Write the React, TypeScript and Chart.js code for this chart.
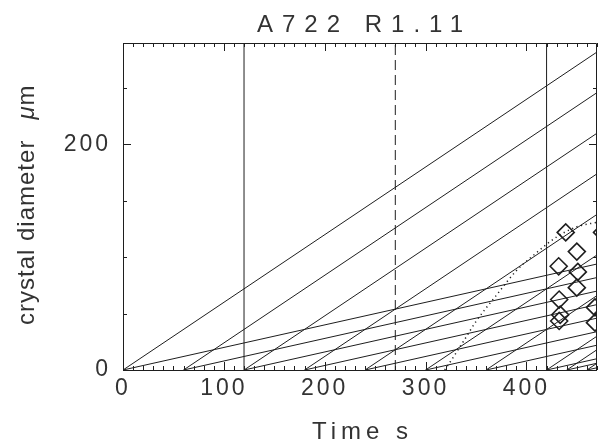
import React, { useEffect, useRef } from 'react';
import { Chart, registerables } from 'chart.js';

Chart.register(...registerables);

// ---------- text ----------
const titleText = 'A722 R1.11';
const xAxisTitle = 'Time s';
const yAxisTitleMain = 'crystal diameter';
const yAxisTitleGreek = 'μ';
const yAxisTitleUnit = 'm';

// ---------- axes ----------
const timeMin = 0;
const timeMax = 470;
const diamMin = 0;
const diamMax = 290;
const xLabelStep = 100;
const yLabelStep = 200;
const xMinorStep = 10;
const yMinorStep = 50;

// ---------- growth lines (start on the axis, end at the right edge) ----------
const nucleationTimes = [0, 60, 120, 180, 240, 300, 360, 420, 440, 460];
const fastEndDiameter = [282, 246, 210, 174, 138, 102, 66, 30, 18, 6];
const slowEndDiameter = [94, 82, 70, 58, 46, 34, 22, 10, 6, 2];
const lineEndTime = 470;

// ---------- vertical markers ----------
const markerTimes = [120, 270, 420];
const markerDashed = [false, true, false];

// ---------- dotted curve ----------
const curveTimes = [319, 328, 338, 350, 370, 390, 410, 430, 450, 470];
const curveDiameters = [0, 12, 26, 43, 66, 88, 104, 118, 127, 131];

// ---------- measured crystals (diamonds) ----------
const measuredTimes = [439, 450, 432, 451, 450, 432.5, 433.5, 432.5, 468, 468, 475];
const measuredDiameters = [122, 105, 92, 87, 73, 62.5, 49, 43.5, 55.5, 42, 122];
const filledTimes = [471];
const filledDiameters = [50];

const LINE = '#1e1e1e';
const TEXT = '#333333';
const FONT = '"Liberation Sans", Arial, sans-serif';

const framePlugin = {
  id: 'framePlugin',
  beforeDraw(chart: any) {
    chart.ctx.letterSpacing = '3px';
  },
  afterDatasetsDraw(chart: any) {
    const ctx = chart.ctx as CanvasRenderingContext2D;
    const { left, right, top, bottom } = chart.chartArea;
    const xs = chart.scales.x;
    const ys = chart.scales.y;
    ctx.save();
    ctx.strokeStyle = LINE;
    ctx.lineWidth = 1;
    ctx.beginPath();
    ctx.rect(Math.round(left) + 0.5, Math.round(top) + 0.5, Math.round(right - left) - 1, Math.round(bottom - top));
    for (let v = timeMin; v <= timeMax + 0.001; v += xMinorStep) {
      const px = Math.round(xs.getPixelForValue(v)) + 0.5;
      const len = v % xLabelStep === 0 ? 8 : 4;
      ctx.moveTo(px, bottom);
      ctx.lineTo(px, bottom - len);
      ctx.moveTo(px, top);
      ctx.lineTo(px, top + len);
    }
    for (let v = diamMin; v <= diamMax + 0.001; v += yMinorStep) {
      const py = Math.round(ys.getPixelForValue(v)) + 0.5;
      const len = v % yLabelStep === 0 ? 8 : 4;
      ctx.moveTo(left, py);
      ctx.lineTo(left + len, py);
      ctx.moveTo(right, py);
      ctx.lineTo(right - len, py);
    }
    ctx.stroke();
    ctx.restore();
  },
  afterDraw(chart: any) {
    const ctx = chart.ctx as CanvasRenderingContext2D;
    const { left, right } = chart.chartArea;
    const cx = (left + right) / 2;
    ctx.save();
    ctx.fillStyle = TEXT;
    ctx.textBaseline = 'alphabetic';
    // title
    ctx.letterSpacing = '9px';
    ctx.font = `24px ${FONT}`;
    ctx.textAlign = 'center';
    ctx.fillText(titleText, cx + 4.5, 32);
    // x title
    ctx.letterSpacing = '5px';
    ctx.font = `24px ${FONT}`;
    ctx.fillText(xAxisTitle, cx + 2.5, 439);
    // y title (rotated)
    ctx.translate(34, 0);
    ctx.rotate(-Math.PI / 2);
    ctx.letterSpacing = '1px';
    ctx.textAlign = 'left';
    ctx.font = `24px ${FONT}`;
    let pos = -325;
    ctx.fillText(yAxisTitleMain, pos, 0);
    pos += ctx.measureText(yAxisTitleMain).width + 20;
    ctx.font = `italic 24px ${FONT}`;
    ctx.fillText(yAxisTitleGreek, pos, 0);
    pos += ctx.measureText(yAxisTitleGreek).width;
    ctx.font = `24px ${FONT}`;
    ctx.fillText(yAxisTitleUnit, pos, 0);
    ctx.restore();
    ctx.letterSpacing = '0px';
  },
};

export default function App() {
  const ref = useRef<HTMLCanvasElement>(null);
  useEffect(() => {
    if (!ref.current) return;
    const datasets: any[] = [];
    nucleationTimes.forEach((t0, i) => {
      datasets.push({
        data: [{ x: t0, y: 0 }, { x: lineEndTime, y: fastEndDiameter[i] }],
        borderColor: LINE, borderWidth: 1, pointRadius: 0, tension: 0,
      });
      datasets.push({
        data: [{ x: t0, y: 0 }, { x: lineEndTime, y: slowEndDiameter[i] }],
        borderColor: LINE, borderWidth: 1, pointRadius: 0, tension: 0,
      });
    });
    markerTimes.forEach((t, i) => {
      datasets.push({
        data: [{ x: t, y: diamMin }, { x: t, y: diamMax }],
        borderColor: LINE, borderWidth: 1, pointRadius: 0,
        borderDash: markerDashed[i] ? [10, 5] : [],
      });
    });
    datasets.push({
      data: curveTimes.map((t, i) => ({ x: t, y: curveDiameters[i] })),
      borderColor: LINE, borderWidth: 1.5, pointRadius: 0, tension: 0.4,
      borderDash: [1.2, 3.5], cubicInterpolationMode: 'monotone',
    });
    datasets.push({
      data: measuredTimes.map((t, i) => ({ x: t, y: measuredDiameters[i] })),
      showLine: false, pointStyle: 'rectRot', pointRadius: 8.5,
      borderColor: LINE, borderWidth: 1.6, backgroundColor: 'rgba(0,0,0,0)', clip: 0,
    });
    datasets.push({
      data: filledTimes.map((t, i) => ({ x: t, y: filledDiameters[i] })),
      showLine: false, pointStyle: 'rectRot', pointRadius: 4,
      borderColor: LINE, borderWidth: 1, backgroundColor: LINE, clip: 0,
    });

    const zeroPad = (s: any) => {
      s.paddingLeft = 0; s.paddingRight = 0; s.paddingTop = 0; s.paddingBottom = 0;
    };

    const chart = new Chart(ref.current, {
      type: 'line',
      data: { datasets },
      plugins: [framePlugin],
      options: {
        animation: false,
        responsive: false,
        devicePixelRatio: 1,
        layout: { autoPadding: false, padding: { top: 43, right: 4, left: 0, bottom: 0 } },
        plugins: { legend: { display: false }, tooltip: { enabled: false }, title: { display: false } },
        scales: {
          x: {
            type: 'linear', min: timeMin, max: timeMax,
            grid: { display: false, drawTicks: false },
            border: { display: false },
            ticks: {
              stepSize: xLabelStep, includeBounds: false, padding: 5,
              color: TEXT, font: { family: FONT, size: 23 }, maxRotation: 0,
            },
            afterFit: (s: any) => { s.height = 76; zeroPad(s); },
          },
          y: {
            type: 'linear', min: diamMin, max: diamMax,
            grid: { display: false, drawTicks: false },
            border: { display: false },
            ticks: {
              stepSize: yLabelStep, includeBounds: false, padding: 12,
              color: TEXT, font: { family: FONT, size: 23 },
            },
            afterFit: (s: any) => { s.width = 123; zeroPad(s); },
          },
        },
      } as any,
    });
    return () => chart.destroy();
  }, []);
  return (
    <div style={{ position: 'fixed', left: 0, top: 0, width: 601, height: 446, background: '#fff' }}>
      <canvas ref={ref} width={601} height={446} style={{ display: 'block' }} />
    </div>
  );
}
